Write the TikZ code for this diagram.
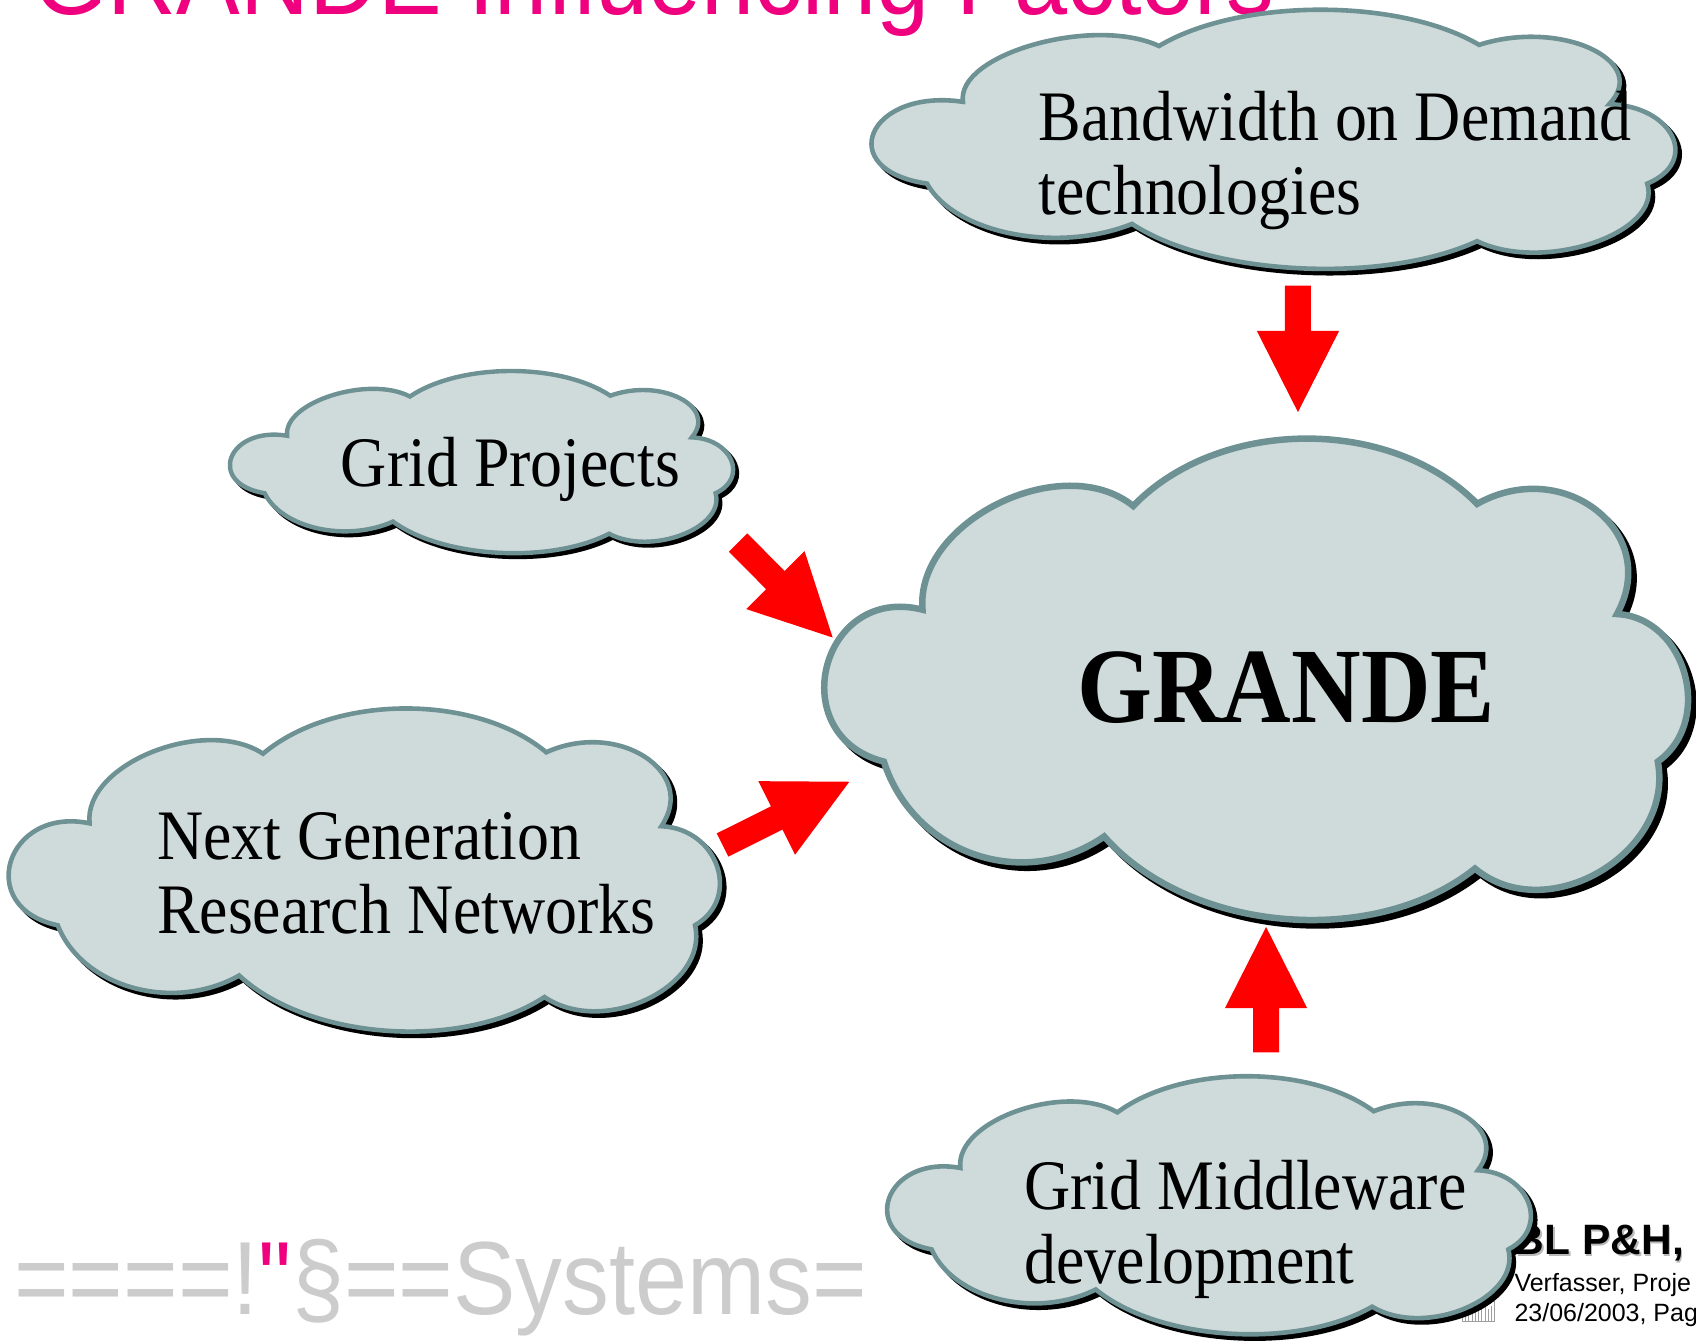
\documentclass[tikz,border=0pt]{standalone}
\usepackage{fontspec}
\setmainfont{Liberation Serif}[FakeStretch=0.9]
\newfontfamily\sansf{Liberation Sans}[FakeStretch=0.9]
\newfontfamily\footf{Liberation Sans}
\usetikzlibrary{calc}
\definecolor{cloudfill}{RGB}{207,219,219}
\definecolor{cloudline}{RGB}{110,145,148}
\definecolor{tmag}{RGB}{238,0,127}
\definecolor{sysgray}{RGB}{204,204,204}
\definecolor{arrowred}{RGB}{255,0,0}
% lobe of a cloud from #1 to #2 whose middle passes through #3
\newcommand\lobeA[3]{.. controls ($0.0833*(#1)+1.3333*(#3)-0.4167*(#2)$) and ($0.0833*(#2)+1.3333*(#3)-0.4167*(#1)$) .. (#2)}
\newcommand\lobeB[3]{.. controls ($0.1833*(#1)+1.3333*(#3)-0.5167*(#2)$) and ($0.1833*(#2)+1.3333*(#3)-0.5167*(#1)$) .. (#2)}
\newcommand\lobeC[3]{.. controls ($0.3333*(#1)+1.3333*(#3)-0.6667*(#2)$) and ($0.3333*(#2)+1.3333*(#3)-0.6667*(#1)$) .. (#2)}
\newcommand\cloudpath{(0.1115,0.3563)
 \lobeB{0.1115,0.3563}{0.3571,0.1403}{0.2,0.135}
 \lobeA{0.3571,0.1403}{0.7581,0.1359}{0.5576,0}
 \lobeB{0.7581,0.1359}{0.9211,0.3653}{0.8972,0.1492}
 \lobeB{0.9211,0.3653}{0.9687,0.6726}{1.0,0.49}
 \lobeB{0.9687,0.6726}{0.7556,0.8953}{0.901,0.902}
 \lobeA{0.7556,0.8953}{0.3233,0.8285}{0.5326,1.0}
 \lobeA{0.3233,0.8285}{0.0664,0.6726}{0.1729,0.8664}
 \lobeC{0.0664,0.6726}{0.1115,0.3563}{0.0,0.474} -- cycle}
% x, y, width, height, line width, shadow offset
\newcommand\drawcloud[6]{%
  \fill[black, draw=black, line width=#5, shift={(#1+#6,#2+#6)}, xscale=#3, yscale=#4] \cloudpath;
  \filldraw[fill=cloudfill, draw=cloudline, line width=#5, shift={(#1,#2)}, xscale=#3, yscale=#4] \cloudpath;
}
% tail coordinate, angle, shaft length
\newcommand\blockarrow[3]{%
  \fill[arrowred, shift={(#1)}, rotate=#2] (0,-12) -- (#3,-12) -- (#3,-38) -- ({#3+75},0) -- (#3,38) -- (#3,12) -- (0,12) -- cycle;
}
\tikzset{
  label/.style={anchor=base west, inner sep=0pt, font=\fontsize{71pt}{74pt}\selectfont},
  plain/.style={anchor=base west, inner sep=0pt}
}
\begin{document}
\begin{tikzpicture}[x=1.0816pt, y=-1.0816pt]
\useasboundingbox (0,0) rectangle (1568,1239);
\clip (0,0) rectangle (1568,1239);

% title (cut by the top edge)
\node[plain, text=tmag, font=\sansf\fontsize{106pt}{110pt}\selectfont] (title) at (31,13) {GRANDE Influencing Factors};

% bottom left logo text
\node[plain, text=sysgray, font=\sansf\fontsize{104pt}{106pt}\selectfont] (sys) at (13,1215) {====!{\color{tmag}"}§==Systems=};

% footer
\draw[gray!75, line width=0.9pt] (1352,1203) rectangle (1382,1222);
\foreach \i/\h in {1355/1212,1358/1207,1361/1210,1364/1206,1367/1211,1370/1208,1373/1206,1376/1210,1379/1207}
  \draw[gray!75, line width=0.9pt] (\i,1222) -- (\i,\h);
\node[plain, text=gray!55, font=\footf\bfseries\fontsize{42.5pt}{44pt}\selectfont] (blshadow) at (1400.8,1161.8) {BL P\&H,};
\node[plain, font=\footf\bfseries\fontsize{42.5pt}{44pt}\selectfont] (bl) at (1399.5,1160) {BL P\&H,};
\node[plain, font=\footf\fontsize{25pt}{26pt}\selectfont] (author) at (1400,1193.6) {Verfasser, Proje};
\node[plain, font=\footf\fontsize{25pt}{26pt}\selectfont] (date) at (1400,1222) {23/06/2003, Pag};

% clouds
\drawcloud{764.5}{405.5}{793}{444}{6.5pt}{5}
\drawcloud{808}{9}{738}{239}{4.6pt}{4}
\drawcloud{214}{343}{462}{168}{4.4pt}{3.5}
\drawcloud{10}{655}{653}{298}{4.6pt}{4}
\drawcloud{822}{995}{591}{238}{4.6pt}{4}

% cloud texts
\node[label] (bod) at (960,130) {\begin{tabular}[t]{@{}l@{}}Bandwidth on Demand\\technologies\end{tabular}};
\node[label] (grid) at (315,450) {Grid Projects};
\node[label, font=\bfseries\fontsize{107pt}{110pt}\selectfont] (grande) at (996,668) {GRANDE};
\node[label] (ngrn) at (145,795) {\begin{tabular}[t]{@{}l@{}}Next Generation\\Research Networks\end{tabular}};
\node[label] (gmw) at (947,1118) {\begin{tabular}[t]{@{}l@{}}Grid Middleware\\development\end{tabular}};

% block arrows
\coordinate (tailBod) at (1200,264);
\coordinate (tailGmw) at (1170.5,973);
\coordinate (tailGrid) at (682.3,501.6);
\coordinate (tailNgrn) at (668,781.2);
\blockarrow{tailBod}{-90}{42}
\blockarrow{tailGmw}{90}{41}
\blockarrow{tailGrid}{-45.1}{49}
\blockarrow{tailNgrn}{26.5}{56}
\end{tikzpicture}
\end{document}
